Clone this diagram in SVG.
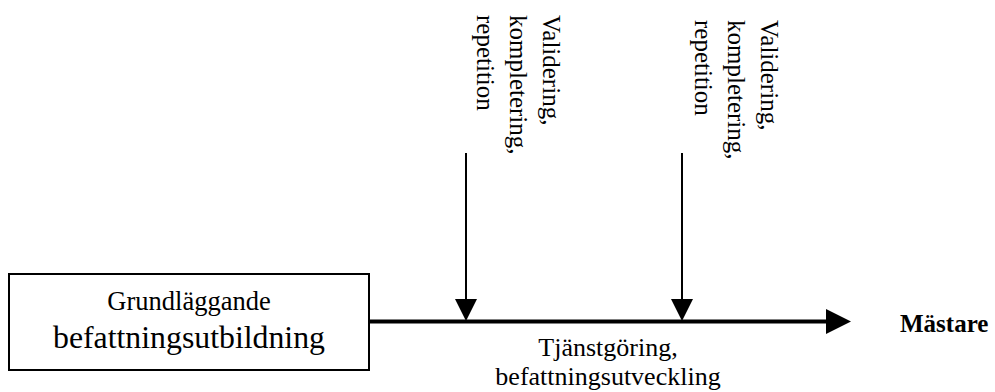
<svg xmlns="http://www.w3.org/2000/svg" width="995" height="392" viewBox="0 0 995 392">
<style>
text{font-family:"Liberation Serif","Times New Roman",serif;fill:#000}
.v{font-size:25px}
.box{fill:#fff;stroke:#000;stroke-width:2}
.ln{stroke:#000;fill:none}
.ah{fill:#000}
</style>
<rect width="995" height="392" fill="#fff"/>
<g id="connectors">
<line class="ln" x1="369" y1="321.5" x2="828" y2="321.5" stroke-width="4"/>
<polygon class="ah" points="826,309 851,321.5 826,334"/>
<line class="ln" x1="466" y1="153" x2="466" y2="302" stroke-width="2"/>
<polygon class="ah" points="455,299 477,299 466,321"/>
<line class="ln" x1="682" y1="153" x2="682" y2="302" stroke-width="2"/>
<polygon class="ah" points="671,299 693,299 682,321"/>
</g>
<g id="node-grund">
<rect class="box" x="9" y="274" width="360" height="96"/>
<text x="189" y="310" text-anchor="middle" font-size="26.5">Grundläggande</text>
<text x="189" y="348" text-anchor="middle" font-size="31.8">befattningsutbildning</text>
</g>
<g id="label-validering-1">
<text class="v" transform="translate(543,15) rotate(90)">Validering,</text>
<text class="v" transform="translate(510,15) rotate(90)">kompletering,</text>
<text class="v" transform="translate(477,15) rotate(90)">repetition</text>
</g>
<g id="label-validering-2">
<text class="v" transform="translate(761,20) rotate(90)">Validering,</text>
<text class="v" transform="translate(728,20) rotate(90)">kompletering,</text>
<text class="v" transform="translate(695,20) rotate(90)">repetition</text>
</g>
<g id="label-tjanst">
<text x="608" y="356" text-anchor="middle" font-size="26">Tjänstgöring,</text>
<text x="608" y="385" text-anchor="middle" font-size="26">befattningsutveckling</text>
</g>
<g id="node-mastare">
<text x="900" y="332" font-size="25" font-weight="bold">Mästare</text>
</g>
</svg>
